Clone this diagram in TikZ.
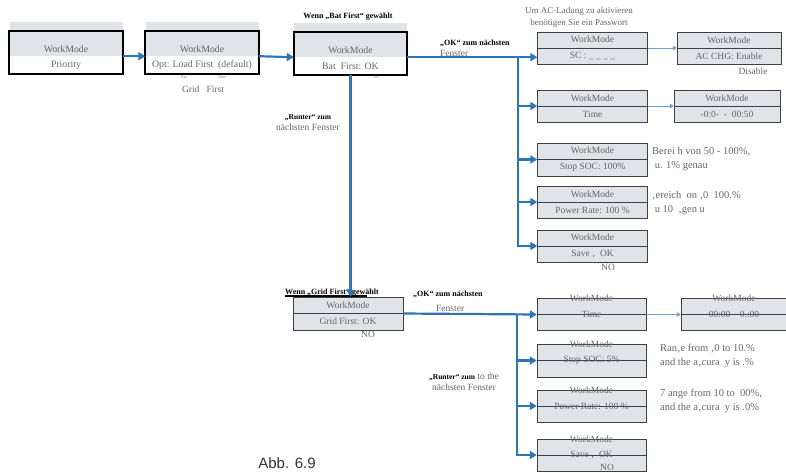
\documentclass[tikz,border=0pt]{standalone}
\usepackage{fontspec}
\setmainfont{Liberation Serif}
\newfontfamily\abbfont{Liberation Sans}
\usepackage{tikz}
\usetikzlibrary{arrows.meta,positioning}
\definecolor{boxgrey}{RGB}{224,227,232}
\definecolor{flowblue}{RGB}{46,117,182}

\begin{document}
\begin{tikzpicture}[x=1pt, y=-1pt,
        wm/.style={draw=black!75, fill=boxgrey, minimum width=110pt, minimum height=32pt, inner sep=0pt, align=center, text=black!60, font=\fontsize{9.5}{16}\selectfont,
            path picture={\draw[black!75] (path picture bounding box.west) -- (path picture bounding box.east);}},
        wmlow/.style={wm, font=\fontsize{9.5}{11}\selectfont, label={[anchor=center, inner sep=0pt, text=black!60, font=\fontsize{9.5}{11}\selectfont]north:WorkMode}},
        head/.style={fill=boxgrey, minimum width=113pt, minimum height=34pt, inner sep=0pt, text height=26pt, text depth=0pt, text=black!60, font=\fontsize{9.8}{11}\selectfont},
        body/.style={fill=white, minimum width=113pt, minimum height=17pt, inner sep=0pt, text=black!60, font=\fontsize{9.8}{11}\selectfont},
        frame/.style={draw=black, line width=2pt},
        flow/.style={draw=flowblue, line width=2.2pt, -{Triangle[length=7pt, width=8pt]}},
        thin/.style={draw=flowblue!70, line width=0.8pt, -{Triangle[length=4pt, width=4.5pt]}},
        note/.style={anchor=west, align=left, inner sep=0pt, text=black!60, font=\fontsize{10.5}{14}\selectfont},
        hint/.style={inner sep=0pt, text=black!60, font=\fontsize{9.5}{11}\selectfont},
        tiny/.style={inner sep=0pt, text=black!50, font=\fontsize{4}{5}\selectfont},
        title/.style={inner sep=0pt, font=\fontsize{8}{10}\selectfont\bfseries}
    ]
    \useasboundingbox (0,0) rectangle (786,472);
    % Erste Zeile
    \node[head] (p1) at (66,39) {WorkMode};
    \node[body, below=0pt of p1] (p1b) {Priority};
    \draw[frame] ([yshift=-9pt]p1.north west) rectangle (p1b.south east);
    \node[head] (p2) at (202,39) {WorkMode};
    \node[body, below=0pt of p2] (p2b) {Opt: Load First \ (default)};
    \draw[frame] ([yshift=-9pt]p2.north west) rectangle (p2b.south east);
    \node[tiny] (bat) at (184,77) {Bat};
    \node[tiny] (tim) at (222,77) {Time};
    \node[hint] (gfs) at (203,89) {Grid~~~First};
    \node[head] (p3) at (350.5,40) {WorkMode};
    \node[body, below=0pt of p3] (p3b) {Bat \ First: OK};
    \draw[frame] ([yshift=-9pt]p3.north west) rectangle (p3b.south east);
    \node[title] (t3) at (348,17) {Wenn „Bat First“ gewählt};
    \node[tiny] (no1) at (376,77) {NO};
    \node[title, anchor=west] (ok1) at (440,43) {„OK“ zum nächsten};
    \node[hint, anchor=west] (fe1) at (440,53) {Fenster};
    % Bat First
    \node[hint, align=center, font=\fontsize{9}{12}\selectfont] (pw) at (579,17) {Um AC-Ladung zu aktivieren\\benötigen Sie ein Passwort};
    \node[wm] (sc) at (592.5,48) {WorkMode\\SC : \_ \_ \_ \_};
    \node[wm, minimum width=104pt] (ac) at (729,48) {WorkMode\\AC CHG: Enable};
    \node[hint] (dis) at (753,71) {Disable};
    \node[wm] (tm) at (592.5,106) {WorkMode\\Time};
    \node[wm, minimum width=106pt] (tr) at (727,106) {WorkMode\\-0:0-~~-~~00:50};
    \node[wm, minimum height=33pt] (soc) at (592.5,159.5) {WorkMode\\Stop SOC: 100\%};
    \node[note] (n1) at (652,159) {Berei h von 50 - 100\%,\\ \ u. 1\% genau};
    \node[wm] (pr) at (592.5,202) {WorkMode\\Power Rate: 100 \%};
    \node[note] (n2) at (652,203) {‚ereich \ on ‚0 \ 100.\%\\ \ u 10 \ ‚gen u};
    \node[wm] (sv) at (592.5,246) {WorkMode\\Save ‚ \ OK};
    \node[hint] (no2) at (608,267) {NO};
    % Grid First
    \node[wm, minimum height=33pt] (gf) at (348,313.5) {WorkMode\\Grid First: OK};
    \node[title, anchor=south west] (t4) at (285,296) {Wenn „Grid First“ gewählt};
    \draw[line width=1.5pt] (t4.south west) -- ([xshift=-12pt]t4.south east);
    \node[hint] (no3) at (368,334) {NO};
    \node[hint, align=center] (ru1) at (308,123) {{\color{black}\bfseries\fontsize{7.5}{10}\selectfont „Runter“ zum}\\nächsten Fenster};
    \node[title, anchor=west] (ok2) at (413,294) {„OK“ zum nächsten};
    \node[hint, anchor=west] (fe2) at (436,308) {Fenster};
    \node[wmlow, minimum width=109pt] (tm2) at (591.5,314.5) {Time};
    \node[wmlow, minimum width=106pt] (tr2) at (734,314.5) {00:00~~~~0.:00};
    \node[wmlow, minimum width=109pt, minimum height=33pt] (soc2) at (591.5,360.5) {Stop SOC: 5\%};
    \node[note] (n3) at (660,355.5) {Ran‚e from ‚0 to 10.\%\\and the a‚cura \ y is .\%};
    \node[wmlow, minimum width=109pt] (pr2) at (591.5,406) {Power Rate: 100 \%};
    \node[note] (n4) at (660,401) {7 ange from 10 to \ 00\%,\\and the a‚cura \ y is .0\%};
    \node[wmlow, minimum width=109pt] (sv2) at (591.5,455) {Save ‚ \ OK};
    \node[hint] (no4) at (607,467) {NO};
    \node[hint, align=center] (ru2) at (464,382) {{\color{black}\bfseries\fontsize{7.5}{10}\selectfont „Runter“ zum} to the\\nächsten Fenster};
    \node[inner sep=0pt, text=black!80, font=\abbfont\fontsize{15}{18}\selectfont] (abb) at (287,463) {Abb. 6.9};
    % Verbindungen
    \draw[flow] (p1b.north east) -- (p2b.north west);
    \draw[flow] (p2b.north east) -- (p3b.north west);
    \coordinate (t1) at (518,57);
    \draw[flow] (p3b.north east) -- (sc.west |- p3b.north east);
    \draw[flow] (t1) |- (tm.west);
    \draw[flow] (t1) |- (soc.west);
    \draw[flow] (t1) |- (pr.west);
    \draw[flow] (t1) |- (sv.west);
    \draw[thin] (sc.east) -- (ac.west);
    \draw[thin] (tm.east) -- (tr.west);
    \draw[flow] (p3b.south) -- (p3b.south |- gf.north);
    \coordinate (t2) at (517,314);
    \draw[flow] (gf.east) -- (tm2.west);
    \draw[flow] (t2) |- (soc2.west);
    \draw[flow] (t2) |- (pr2.west);
    \draw[flow] (t2) |- (sv2.west);
    \draw[thin] (tm2.east) -- (tr2.west);
\end{tikzpicture}
\end{document}
